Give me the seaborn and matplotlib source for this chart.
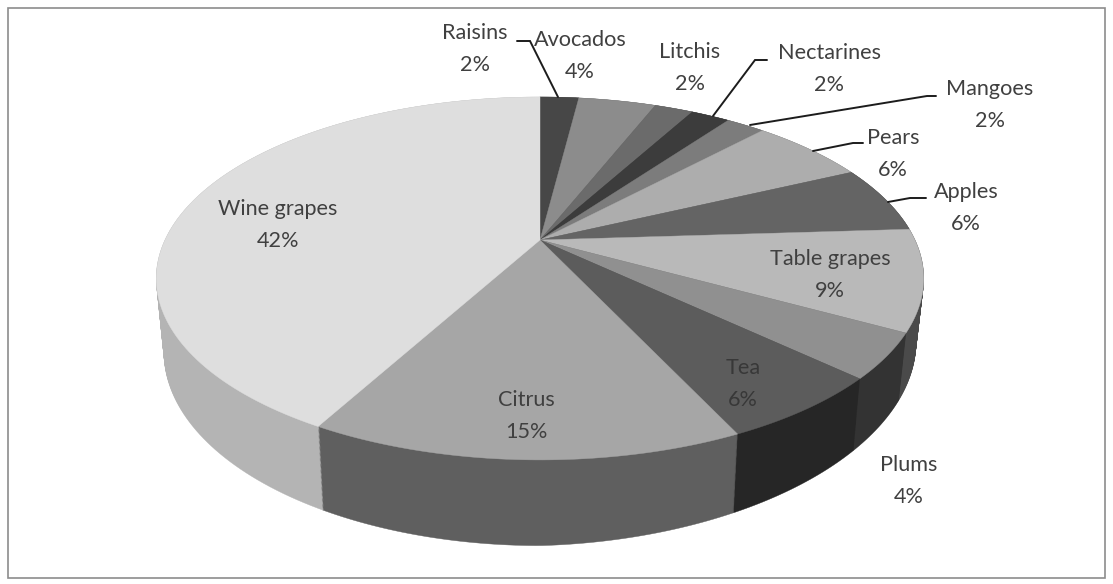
import numpy as np
import matplotlib
matplotlib.use("Agg")
import matplotlib.pyplot as plt
import matplotlib.transforms as mtransforms
from matplotlib.path import Path
from matplotlib.patches import Rectangle
import seaborn as sns

categories = ["Raisins", "Avocados", "Litchis", "Nectarines", "Mangoes", "Pears",
              "Apples", "Table grapes", "Plums", "Tea", "Citrus", "Wine grapes"]
shares = [2, 4, 2, 2, 2, 6, 6, 9, 4, 6, 15, 42]
top_colors = ["#474747", "#8c8c8c", "#6b6b6b", "#3c3c3c", "#7c7c7c", "#adadad",
              "#646464", "#b9b9b9", "#909090", "#5c5c5c", "#a6a6a6", "#dedede"]
wall_colors = ["#333333", "#555555", "#444444", "#2a2a2a", "#4f4f4f", "#666666",
               "#3e3e3e", "#4a4a4a", "#333333", "#262626", "#5f5f5f", "#b4b4b4"]
label_xy = [(475, 49), (580, 56), (690, 68), (829, 69), (990, 105), (893, 154),
            (966, 208), (830, 275), (909, 481), (743, 384), (526, 416), (278, 225)]
label_colors = ["#404040"] * 9 + ["#383838"] + ["#404040"] * 2
leaders = {
    "Raisins": [(517, 41), (530, 41), (558, 97)],
    "Nectarines": [(767, 60), (755, 60), (713, 116)],
    "Mangoes": [(936, 96), (927, 96), (750, 125)],
    "Pears": [(863, 143), (853, 143), (813, 151)],
    "Apples": [(926, 198), (910, 198), (888, 202)],
}

CX, CY, A, B, K, DEPTH, SHRINK, LIFT = 540.0, 240.0, 375.0, 173.3, 0.212, 71.0, 0.02, 10.0


class Tilt(mtransforms.Transform):
    """Perspective view of a flat unit-radius pie lying at level z of the cake."""
    input_dims = 2
    output_dims = 2
    is_separable = False
    has_inverse = False

    def __init__(self, z):
        super().__init__()
        self.z = z

    def transform_non_affine(self, xy):
        xy = np.asarray(xy, dtype=float)
        u, v = xy[:, 0], xy[:, 1]
        d = 1 + K * v
        s = 1 - SHRINK * self.z
        drop = self.z * (DEPTH - LIFT * np.maximum(u, 0))
        return np.column_stack([CX + A * s * u / d,
                                CY - (B * s * v - drop) / d])

    def transform_path_non_affine(self, path):
        big = path.transformed(mtransforms.Affine2D().scale(3000))
        verts = np.vstack(big.to_polygons(closed_only=True)) / 3000
        return Path(self.transform_non_affine(verts), closed=True)


sns.set_theme(style="white")
plt.rcParams["font.family"] = ["Lato", "DejaVu Sans"]

fig = plt.figure(figsize=(11.13, 5.84), dpi=100, facecolor="white")
ax = fig.add_axes([0, 0, 1, 1])


def draw_layer(colors, z):
    wedges, _ = ax.pie(shares, colors=colors, startangle=90, counterclock=False,
                       radius=1, wedgeprops=dict(linewidth=0))
    for w in wedges:
        w.set_transform(Tilt(z) + ax.transData)
        w.set_edgecolor(w.get_facecolor())
        w.set_linewidth(0.3)


for z in np.linspace(1, 0, 70):
    draw_layer(wall_colors, z)
draw_layer(top_colors, 0.0)

ax.set_xlim(0, 1113)
ax.set_ylim(584, 0)
ax.set_aspect("auto")
ax.set_axis_off()

ax.add_patch(Rectangle((8, 8), 1097, 570, fill=False, edgecolor="#8c8c8c", linewidth=1.2))

for name, pts in leaders.items():
    xs, ys = zip(*pts)
    ax.plot(xs, ys, color="#1c1c1c", linewidth=1.4, solid_joinstyle="miter")

for name, pct, (x, y), col in zip(categories, shares, label_xy, label_colors):
    ax.text(x, y, f"{name}\n{pct}%", ha="center", va="center", color=col,
            fontsize=15.6, linespacing=1.75)

fig.savefig("out.png", dpi=100)
